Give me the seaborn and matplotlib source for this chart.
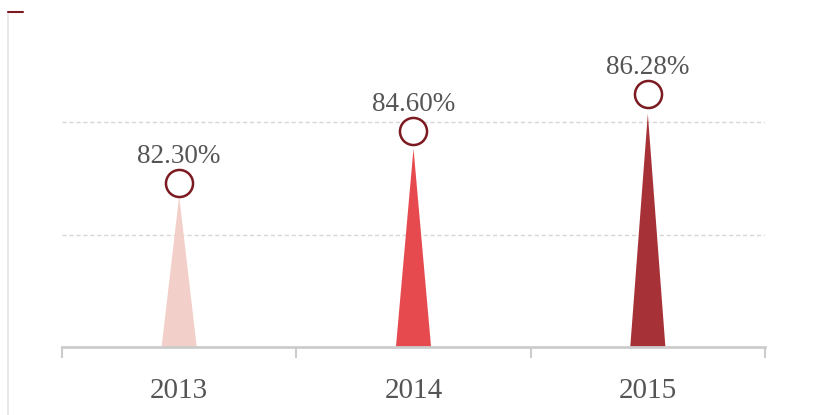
import matplotlib
matplotlib.use("Agg")
import matplotlib.pyplot as plt
import seaborn as sns
import pandas as pd
from matplotlib.lines import Line2D

# data
years = ["2013", "2014", "2015"]
rates = [82.30, 84.60, 86.28]
labels = ["82.30%", "84.60%", "86.28%"]
colors = ["#f2cfc8", "#e64a4f", "#a63237"]

y_min, y_max = 75, 90
spike_ratio = 0.92   # triangles stop a little under the marker
half_width = 0.075

sns.set_theme(style="white")
plt.rcParams["font.family"] = ["Liberation Serif", "DejaVu Serif"]

df = pd.DataFrame({"year": years, "rate": rates, "x": range(len(years))})

fig = plt.figure(figsize=(8.19, 4.15), dpi=100)
ax = fig.add_axes([62 / 819, 68 / 415, 703 / 819, 337 / 415])

# triangle spikes
for i, (v, c) in enumerate(zip(rates, colors)):
    top = y_min + spike_ratio * (v - y_min)
    ax.fill([i - half_width, i, i + half_width], [y_min, top, y_min],
            color=c, lw=0, zorder=2)

# hollow circle markers at the value
sns.scatterplot(data=df, x="x", y="rate", ax=ax, s=380, marker="o",
                facecolor="white", edgecolor="#7b1a20", linewidth=1.8,
                zorder=4, legend=False)

for i, (v, t) in enumerate(zip(rates, labels)):
    ax.annotate(t, (i, v), xytext=(0, 10), textcoords="offset points",
                ha="center", va="bottom", fontsize=19.5, color="#555555")

ax.set_xlim(-0.5, len(years) - 0.5)
ax.set_ylim(y_min, y_max)
ax.set_yticks([80, 85])
ax.set_yticklabels([])
ax.yaxis.grid(True, linestyle=(0, (3, 2)), color="#d6d6d6", linewidth=1)
ax.tick_params(axis="y", length=0)

ax.set_xticks(range(len(years)))
ax.set_xticklabels(years, fontsize=21, color="#555555")
ax.set_xticks([-0.5, 0.5, 1.5, 2.5], minor=True)
ax.tick_params(axis="x", which="major", length=0, pad=22)
ax.tick_params(axis="x", which="minor", length=8, width=1.5, color="#cccccc",
               direction="out", bottom=True)
ax.set_xlabel("")
ax.set_ylabel("")

for s in ["top", "right", "left"]:
    ax.spines[s].set_visible(False)
ax.spines["bottom"].set_color("#cccccc")
ax.spines["bottom"].set_linewidth(2)

# card decoration at the top-left
fig.add_artist(Line2D([8 / 819, 8 / 819], [0, 1 - 12 / 415], color="#e6e6e6",
                      lw=1.2, transform=fig.transFigure))
fig.add_artist(Line2D([8 / 819, 23 / 819], [1 - 12 / 415, 1 - 12 / 415],
                      color="#7b1a20", lw=1.5, transform=fig.transFigure))

fig.savefig("out.png", dpi=100)
